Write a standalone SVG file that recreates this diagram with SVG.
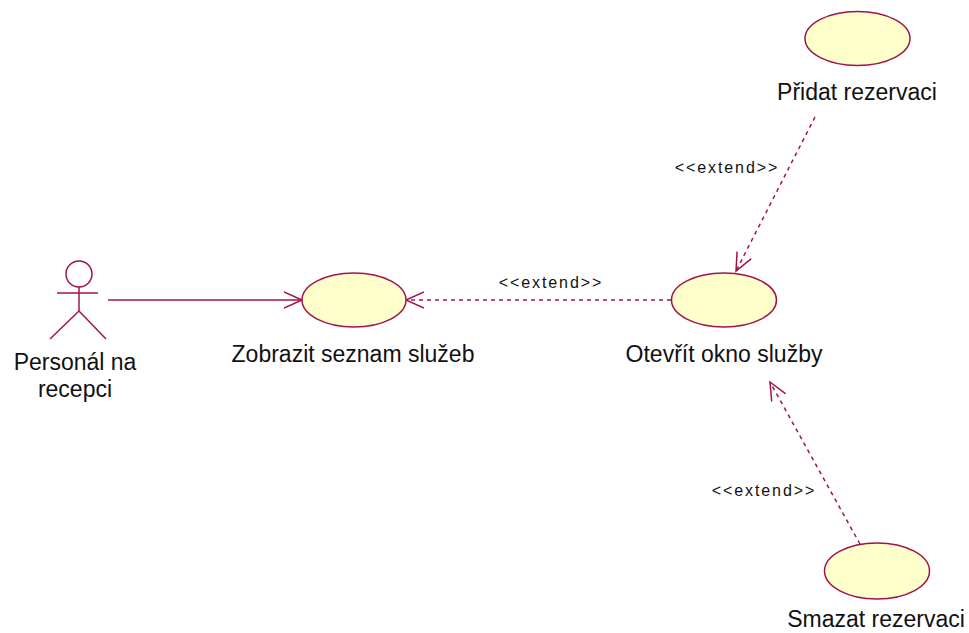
<svg xmlns="http://www.w3.org/2000/svg" width="969" height="633" viewBox="0 0 969 633">
<style>
.uc{fill:#ffffcc;stroke:#a3134a;stroke-width:1.5}
.ln{fill:none;stroke:#a3134a;stroke-width:1.5}
.dash{fill:none;stroke:#a3134a;stroke-width:1.5;stroke-dasharray:4,4}
.lbl{font-family:"Liberation Sans",Arial,sans-serif;font-size:23px;fill:#111;text-anchor:middle}
.st{font-family:"Liberation Sans",Arial,sans-serif;font-size:16px;fill:#111;text-anchor:middle;letter-spacing:1.9px}
</style>
<defs>
<marker id="open" viewBox="0 0 20 20" refX="18" refY="10" markerWidth="20" markerHeight="20" markerUnits="userSpaceOnUse" orient="auto">
<path d="M0,2 L18,10 L0,18" fill="none" stroke="#a3134a" stroke-width="1.5"/>
</marker>
</defs>
<rect width="969" height="633" fill="#ffffff"/>
<g id="connectors">
<line class="ln" x1="108" y1="300" x2="302" y2="300" marker-end="url(#open)"/>
<line class="dash" x1="671" y1="300" x2="406" y2="300" marker-end="url(#open)"/>
<line class="dash" x1="815" y1="117" x2="736" y2="271" marker-end="url(#open)"/>
<line class="dash" x1="860" y1="544" x2="770" y2="382" marker-end="url(#open)"/>
<text class="st" x="551" y="288">&lt;&lt;extend&gt;&gt;</text>
<text class="st" x="727" y="173">&lt;&lt;extend&gt;&gt;</text>
<text class="st" x="764" y="496">&lt;&lt;extend&gt;&gt;</text>
</g>
<g id="actor-personal">
<circle class="ln" cx="79" cy="274" r="13"/>
<line class="ln" x1="79" y1="287" x2="79" y2="311"/>
<line class="ln" x1="57" y1="293" x2="98" y2="293"/>
<line class="ln" x1="79" y1="311" x2="50" y2="339"/>
<line class="ln" x1="79" y1="311" x2="106" y2="339"/>
<text class="lbl" x="75" y="370">Personál na</text>
<text class="lbl" x="75" y="397">recepci</text>
</g>
<g id="uc-zobrazit">
<ellipse class="uc" cx="354" cy="300" rx="52" ry="27"/>
<text class="lbl" x="353" y="362">Zobrazit seznam služeb</text>
</g>
<g id="uc-otevrit">
<ellipse class="uc" cx="724" cy="300" rx="52.5" ry="27"/>
<text class="lbl" x="724" y="362">Otevřít okno služby</text>
</g>
<g id="uc-pridat">
<ellipse class="uc" cx="857.5" cy="38.5" rx="52.5" ry="27"/>
<text class="lbl" x="857" y="100">Přidat rezervaci</text>
</g>
<g id="uc-smazat">
<ellipse class="uc" cx="877" cy="571" rx="52.5" ry="28"/>
<text class="lbl" x="876" y="627">Smazat rezervaci</text>
</g>
</svg>
